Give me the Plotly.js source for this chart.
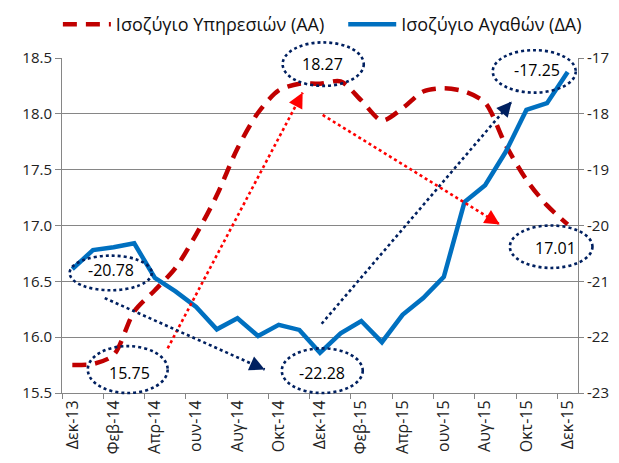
<!DOCTYPE html>
<html><head><meta charset="utf-8">
<script src="https://cdn.plot.ly/plotly-3.0.1.min.js"></script>
<style>html,body{margin:0;padding:0;background:#fff}#chart{width:619px;height:463px}</style>
</head><body><div id="chart"></div>
<script>
// ---- data ----
const months = ["Δεκ-13","Ιαν-14","Φεβ-14","Μαρ-14","Απρ-14","Μαϊ-14","ουν-14","Ιουλ-14","Αυγ-14","Σεπ-14","Οκτ-14","Νοε-14","Δεκ-14","Ιαν-15","Φεβ-15","Μαρ-15","Απρ-15","Μαϊ-15","ουν-15","Ιουλ-15","Αυγ-15","Σεπ-15","Οκτ-15","Νοε-15","Δεκ-15"];
const services = [15.75,15.76,15.84,16.23,16.42,16.62,16.92,17.27,17.69,18.01,18.21,18.27,18.27,18.29,18.12,17.94,18.05,18.20,18.23,18.20,18.10,17.72,17.41,17.18,17.01];
const goods = [-20.78,-20.44,-20.39,-20.32,-20.94,-21.18,-21.46,-21.86,-21.66,-21.98,-21.78,-21.87,-22.28,-21.93,-21.71,-22.09,-21.60,-21.30,-20.92,-19.58,-19.28,-18.68,-17.93,-17.81,-17.25];
const seriesNames = ["Ισοζύγιο Υπηρεσιών (ΑΑ)","Ισοζύγιο Αγαθών (ΔΑ)"];
const leftTicks = [15.5,16.0,16.5,17.0,17.5,18.0,18.5];
const rightTicks = [-23,-22,-21,-20,-19,-18,-17];

// callouts: [label, ellipse x0,x1 (month index), y0,y1 (left-axis value), text x, text y]
const callouts = [
  ["-20.78", -0.13, 3.85, 16.42, 16.73, 1.86, 16.60],
  ["15.75", 0.75, 4.62, 15.50, 15.92, 2.78, 15.68],
  ["18.27", 10.19, 14.12, 18.25, 18.64, 12.13, 18.45],
  ["-22.28", 10.15, 14.07, 15.50, 15.90, 12.10, 15.68],
  ["-17.25", 20.37, 24.39, 18.19, 18.57, 22.5, 18.39],
  ["17.01", 21.2, 25.2, 16.62, 17.00, 23.42, 16.80]
];
// arrows: [tail idx, tail val, tip idx, tip val, color]
const arrows = [
  [4.62, 15.90, 11.16, 18.19, "#FF0000"],
  [12.13, 17.99, 20.71, 17.01, "#FF0000"],
  [1.57, 16.35, 9.32, 15.71, "#002060"],
  [12.08, 16.12, 21.29, 18.11, "#002060"]
];

// ---- geometry helpers ----
const N = months.length;
const W = 516, H = 335;
const LMIN = 15.5, LMAX = 18.5;
const PX = i => (i + 0.5) / N;
const PY = v => (v - LMIN) / (LMAX - LMIN);
const idx = months.map((m, i) => i);

const FONT = "Open Sans, DejaVu Sans, sans-serif";
const navy = "#002060";

const traces = [
  {x: idx, y: services, name: seriesNames[0], type: "scatter", mode: "lines", legend: "legend",
   line: {color: "#C00000", width: 4.5, dash: "14px,9px", shape: "spline", smoothing: 0.8}, yaxis: "y"},
  {x: idx, y: goods, name: seriesNames[1], type: "scatter", mode: "lines", legend: "legend2",
   line: {color: "#0070C0", width: 4.5}, yaxis: "y2"}
];

const shapes = [];
const annotations = [];
callouts.forEach(c => {
  shapes.push({type: "circle", xref: "paper", yref: "paper",
    x0: PX(c[1]), x1: PX(c[2]), y0: PY(c[3]), y1: PY(c[4]),
    line: {color: navy, width: 2.6, dash: "dot"}, layer: "above"});
  annotations.push({xref: "paper", yref: "paper", x: PX(c[5]), y: PY(c[6]),
    xanchor: "center", yanchor: "middle",
    text: c[0], showarrow: false, font: {family: FONT, size: 16, color: "#000"}});
});
arrows.forEach(a => {
  shapes.push({type: "line", xref: "paper", yref: "paper",
    x0: PX(a[0]), y0: PY(a[1]), x1: PX(a[2]), y1: PY(a[3]),
    line: {color: a[4], width: 2.6, dash: "dot"}, layer: "above"});
  let dx = (a[0] - a[2]) * W / N, dy = -(a[1] - a[3]) * H / (LMAX - LMIN);
  const L = Math.hypot(dx, dy);
  annotations.push({xref: "paper", yref: "paper", x: PX(a[2]), y: PY(a[3]),
    ax: dx / L * 8, ay: dy / L * 8, text: "", showarrow: true,
    arrowhead: 2, arrowsize: 1.5, arrowwidth: 2, arrowcolor: a[4]});
});

const legendBase = {orientation: "h", xanchor: "left", y: 1.10, yanchor: "middle",
  font: {family: FONT, size: 18, color: "#111"}, itemwidth: 48, bgcolor: "rgba(0,0,0,0)"};

const evenIdx = idx.filter(i => i % 2 === 0);
const layout = {
  width: 619, height: 463,
  margin: {l: 62, r: 41, t: 58, b: 70, autoexpand: false},
  paper_bgcolor: "#fff", plot_bgcolor: "#fff",
  font: {family: FONT, size: 15, color: "#222"},
  showlegend: true,
  legend: Object.assign({}, legendBase, {x: -0.008}),
  legend2: Object.assign({}, legendBase, {x: 0.545}),
  xaxis: {range: [-0.5, N - 0.5], tickmode: "array", tickvals: evenIdx,
    ticktext: evenIdx.map(i => months[i]), tickangle: -90, ticks: "", showgrid: false,
    zeroline: false, showline: true, linecolor: "#868686", linewidth: 1,
    tickfont: {family: FONT, size: 16, color: "#222"},
    minor: {tick0: -0.5, dtick: 2, ticks: "outside", ticklen: 5, tickcolor: "#868686", showgrid: false}},
  yaxis: {range: [LMIN, LMAX], tickmode: "array", tickvals: leftTicks,
    ticktext: leftTicks.map(v => v.toFixed(1)), ticks: "outside", ticklen: 6, tickcolor: "#868686",
    showgrid: true, gridcolor: "#868686", gridwidth: 1, zeroline: false,
    showline: true, linecolor: "#868686", tickfont: {family: FONT, size: 15, color: "#222"}},
  yaxis2: {range: [-23, -17], overlaying: "y", side: "right", tickmode: "array",
    tickvals: rightTicks, ticktext: rightTicks.map(String), ticks: "outside", ticklen: 5,
    tickcolor: "#868686", showgrid: false, zeroline: false, showline: true, linecolor: "#868686",
    tickfont: {family: FONT, size: 15, color: "#222"}},
  shapes: shapes,
  annotations: annotations
};
Plotly.newPlot("chart", traces, layout, {displayModeBar: false, staticPlot: true});
</script></body></html>
